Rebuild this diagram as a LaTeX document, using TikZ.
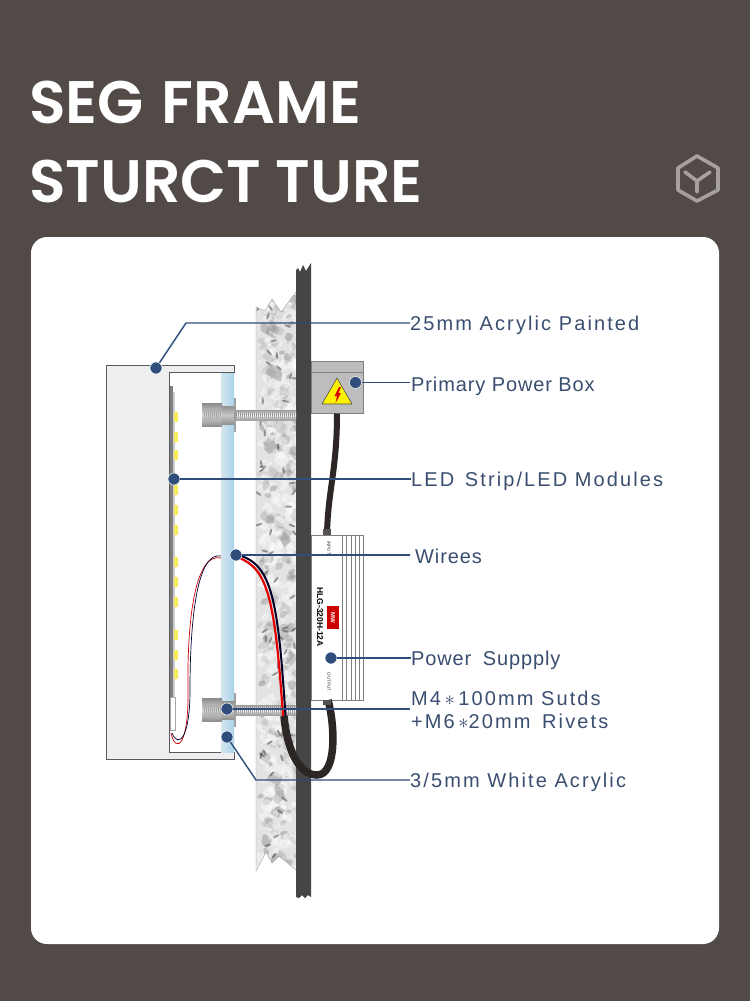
\documentclass[tikz,border=0pt]{standalone}
\usepackage{fontspec}
\setmainfont{Liberation Sans}
\newfontfamily\titlefont{Poppins}[BoldFont={Poppins SemiBold}]
\newfontfamily\labelfont{Liberation Sans}[LetterSpace=10.5]
\newfontfamily\narrowfont{Liberation Sans}[LetterSpace=4.4]
\usetikzlibrary{arrows.meta,positioning,calc}

\definecolor{bgdark}{HTML}{514A46}
\definecolor{leadblue}{HTML}{2F4E7B}
\definecolor{labelblue}{HTML}{3A4E70}
\definecolor{wallgray}{HTML}{454545}
\definecolor{iconpale}{HTML}{A6A19E}
\definecolor{capfill}{HTML}{EEEEF0}
\definecolor{capline}{HTML}{5A5A5A}
\definecolor{boxgray}{HTML}{BDBDBD}
\definecolor{cablecol}{HTML}{2C2625}
\definecolor{ledyellow}{HTML}{F7EC5A}
\definecolor{acrylA}{HTML}{D6E5EF}
\definecolor{acrylB}{HTML}{E8F1F6}
\definecolor{acrylC}{HTML}{A8D3E8}

\tikzset{
  dot/.style={circle, fill=leadblue, draw=white, line width=.5pt, inner sep=0pt, minimum size=12pt},
  lbl/.style={anchor=west, inner sep=0pt, text=labelblue, text height=14pt, text depth=0pt, font=\labelfont\fontsize{20}{23}\selectfont},
  lblnarrow/.style={lbl, font=\narrowfont\fontsize{20}{23}\selectfont},
  lead/.style={draw=leadblue, line width=1.4pt},
  cable/.style={draw=cablecol, line width=6pt},
  fin/.style={draw=gray, line width=.8pt},
  headline/.style={anchor=base west, inner sep=0pt, text=white, font=\titlefont\bfseries\fontsize{60}{70}\selectfont},
}

\begin{document}
\begin{tikzpicture}[x=1pt, y=-1pt]
  \useasboundingbox (0,0) rectangle (750,1001);
  \fill[bgdark] (0,0) rectangle (750,1001);
  \fill[white, rounded corners=16pt] (31,237) rectangle (719,944);

  % title
  \node[headline] (titleA) at (29,123) {SEG\hspace{4pt} FRAME};
  \node[headline] (titleB) at (29,202) {STURCT TURE};

  % logo
  \draw[iconpale, line width=3.6pt, line join=round]
    (697,156) -- (718,168) -- (718,190) -- (697,201) -- (678,190) -- (678,168) -- cycle;
  \draw[iconpale, line width=3.6pt, line cap=round] (685,172) -- (697,181) -- (710,172) (697,181) -- (697,192);

  % stone
  \begin{scope}
    \clip (256,307) -- (265,311) -- (272,299) -- (281,312) -- (296,292) -- (296,870) -- (279,856) -- (272,863) -- (266,852) -- (256,871) -- cycle;
    \fill[gray!22] (256,290) rectangle (296,900);
    \pgfmathsetseed{11}
    \foreach \i in {1,...,520} {
      \pgfmathsetmacro{\px}{256+40*rnd}
      \pgfmathsetmacro{\py}{290+585*rnd}
      \pgfmathsetmacro{\ps}{3+7*rnd}
      \pgfmathsetmacro{\pc}{rnd<0.55 ? 0 : 22+30*rnd}
      \fill[black!\pc!white, opacity=.4, rounded corners=2pt]
        (\px,\py) -- ++({\ps*rnd},{-\ps}) -- ++({\ps},{\ps*rnd}) -- ++({-\ps*rnd},{\ps}) -- cycle;
    }
    \foreach \i in {1,...,60} {
      \pgfmathsetmacro{\px}{258+37*rnd}
      \pgfmathsetmacro{\py}{295+575*rnd}
      \pgfmathsetmacro{\pa}{180*rnd}
      \fill[black!70, opacity=.55, rotate around={\pa:(\px,\py)}] (\px,\py) ellipse (3.6pt and 1.1pt);
    }
  \end{scope}
  \draw[gray!70, line width=.4pt] (256,871) -- (256,307) -- (265,311) -- (272,299) -- (281,312) -- (296,292);
  \draw[gray!70, line width=.4pt] (296,870) -- (279,856) -- (272,863) -- (266,852) -- (256,871);
  \fill[wallgray] (296,270) -- (298,268) -- (300,272) -- (303,265) -- (306,271) -- (311,263) -- (311,897) -- (308,895) -- (305,898) -- (302,895) -- (299,898) -- (296,897) -- cycle;

  % acrylic and frame
  \draw[capline, fill=capfill, line width=1pt]
    (106.5,365) -- (234,365) -- (234,372.5) -- (169,372.5) -- (169,752) -- (234,752) -- (234,759) -- (106.5,759) -- cycle;
  \shade[left color=acrylA, middle color=acrylB, right color=acrylC] (221,373) rectangle (234,752);

  % led strip
  \fill[gray] (169.5,386) rectangle (173,697);
  \fill[gray!40] (173,392) rectangle (175,697);
  \foreach \y in {412,432,450,485,505,525,557,577,597,630,650,669} {
    \fill[ledyellow] (174,\y) rectangle (177.5,\y+10);
  }
  \draw[gray!70, fill=white, line width=.6pt] (170,697) rectangle (175,730);

  % thin wires
  \draw[red!80!black, line width=.7pt] (221,558) .. controls (195,552) and (187,620) .. (188,690) .. controls (189,745) and (176,755) .. (171,733);
  \draw[black!80!blue, line width=.7pt] (221,556) .. controls (197,551) and (190,620) .. (190,690) .. controls (190,740) and (178,748) .. (172,733);

  % studs
  \foreach \sy in {415,710} {
    \shade[top color=gray!70, bottom color=gray!70, middle color=white] (235,\sy-5) rectangle (296,\sy+5);
    \foreach \tx in {236,238,...,295} {
      \draw[gray!90, line width=.7pt] (\tx,\sy-5) -- (\tx+1,\sy+5);
    }
    \shade[top color=gray!90, bottom color=gray!90, middle color=gray!30] (202,\sy-11.5) rectangle (222,\sy+11.5);
    \foreach \tx in {204,206,...,221} {
      \draw[gray!75, line width=.7pt] (\tx,\sy-5) -- (\tx+1,\sy+5);
    }
    \shade[top color=gray!85, bottom color=gray!85, middle color=gray!45] (222,\sy-9) rectangle (234,\sy+9);
    \fill[gray!75] (234,\sy-17) rectangle (236,\sy+17);
  }

  % power box
  \node[draw=gray, fill=boxgray, line width=1pt, minimum width=52pt, minimum height=52pt, inner sep=0pt] (powerbox) at (337,387) {};
  \draw[gray, line width=.8pt] (powerbox.north west |- 0,372) -- (powerbox.north east |- 0,372);
  \draw[black!70, fill=yellow, line width=.6pt, line join=round] (337,378) -- (352,404) -- (322,404) -- cycle;
  \fill[red!85!black] (339,387) -- (334.5,396) -- (337,396) -- (335.5,403) -- (341,393) -- (338.5,393) -- (341,387) -- cycle;

  % power supply
  \node[draw=gray, fill=white, line width=1pt, minimum width=52pt, minimum height=165pt, inner sep=0pt] (supply) at (337,617.5) {};
  \foreach \fx in {342.5,346.7,351,355.2,359.2} {
    \draw[fin] (\fx,535) -- (\fx,700);
  }
  \node[rotate=-90, font=\bfseries\fontsize{8.5}{10}\selectfont, inner sep=0pt] (model) at (320,617) {HLG-320H-12A};
  \node[rotate=-90, fill=red!80!black, text=white, font=\bfseries\fontsize{6}{7}\selectfont, minimum width=23pt, minimum height=12pt, inner sep=0pt] (brand) at (333,617.5) {MW};
  \node[rotate=-90, font=\fontsize{4.5}{5}\selectfont, text=gray!40!black, inner sep=0pt] (inputtag) at (329,548) {INPUT};
  \node[rotate=-90, font=\fontsize{4.5}{5}\selectfont, text=gray!40!black, inner sep=0pt] (outputtag) at (329,682) {OUTPUT};

  % cables
  \draw[cable] (powerbox.south) .. controls (337,470) and (328,490) .. (327,534);
  \draw[cable, line width=7.5pt] (328,700) .. controls (335,725) and (337,775) .. (317,775) .. controls (299,775) and (287,750) .. (284,716);
  \fill[cablecol!80] (323,529) rectangle (331,535);
  \fill[cablecol!80] (323,700) rectangle (331,705);

  % wires to the supply
  \draw[black!85!blue, line width=2pt] (238,555) .. controls (272,564) and (278,600) .. (285.5,716);
  \draw[red!90!black, line width=2.2pt] (238,557.5) .. controls (268,568) and (275,600) .. (283,716);

  % leaders
  \node[dot] (dotPaint) at (156,368) {};
  \node[dot] (dotBox) at (355.5,382.5) {};
  \node[dot] (dotLed) at (174,479) {};
  \node[dot] (dotWire) at (236,555) {};
  \node[dot] (dotSupply) at (331,658) {};
  \node[dot] (dotStud) at (227,709) {};
  \node[dot] (dotAcrylic) at (227,737) {};

  \node[lbl] (lblPaint) at (410,323) {25mm Acrylic Painted};
  \node[lblnarrow] (lblBox) at (411,384) {Primary Power Box};
  \node[lbl] (lblLed) at (411,479) {LED\hspace{3pt} Strip/LED Modules};
  \node[lblnarrow] (lblWire) at (415,556) {Wirees};
  \node[lblnarrow] (lblSupply) at (411,658) {Power\hspace{5pt} Suppply};
  \node[lbl] (lblStudA) at (411,698) {M4$\,*\,$100mm Sutds};
  \node[lbl] (lblStudB) at (411,721) {+M6$\,*$20mm\hspace{4pt} Rivets};
  \node[lbl] (lblAcrylic) at (410,780) {3/5mm White Acrylic};

  \coordinate (kneePaint) at (186,323);
  \coordinate (kneeAcrylic) at (256,780);
  \coordinate (endBox) at (410,382.5);
  \coordinate (endWire) at (410,555);
  \coordinate (endStud) at (410,709);

  \draw[lead] (dotPaint) -- (kneePaint) -- (lblPaint);
  \draw[lead] (dotBox) -- (endBox);
  \draw[lead] (dotLed) -- (lblLed);
  \draw[lead] (dotWire) -- (endWire);
  \draw[lead] (dotSupply) -- (lblSupply);
  \draw[lead] (dotStud) -- (endStud);
  \draw[lead] (dotAcrylic) -- (kneeAcrylic) -- (lblAcrylic);
\end{tikzpicture}
\end{document}
